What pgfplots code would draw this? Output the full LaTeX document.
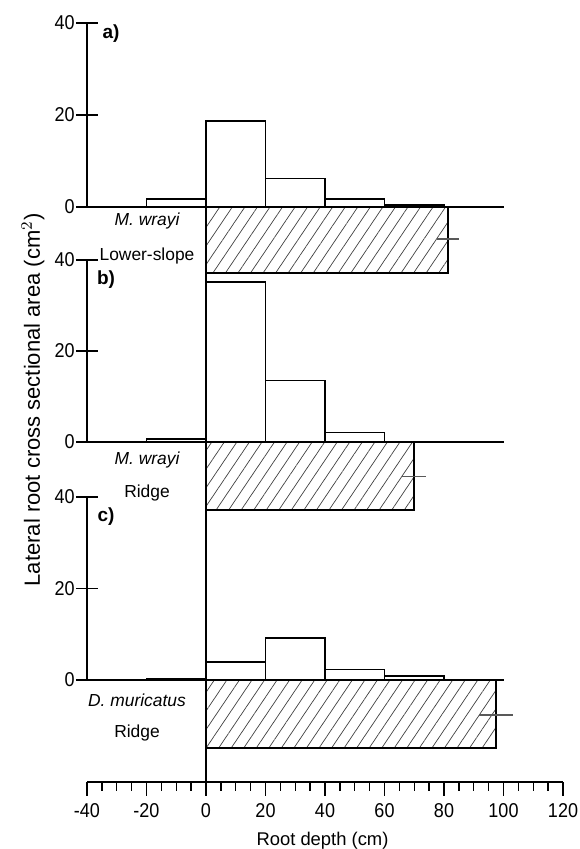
\documentclass[border=0pt]{standalone}
\usepackage{fontspec}
\setmainfont{Liberation Sans}
\newfontfamily\narrowfont[FakeStretch=0.9]{Liberation Sans}
\usepackage{pgfplots}
\pgfplotsset{compat=1.18}
\usetikzlibrary{patterns.meta}

\pgfplotsset{
 panel/.style={scale only axis, width=238pt, xmin=-40, xmax=120, ymin=0, ymax=40, clip=false,
   axis x line=none, axis y line=left, axis line style={-, line width=0.9pt},
   ytick={0,20,40}, tick align=center, major tick length=11pt,
   tick style={line width=0.8pt, black},
   yticklabel style={font=\narrowfont\fontsize{10}{10}\selectfont, inner sep=0.5pt},
   /pgf/number format/assume math mode=true},
 bars/.style={ybar interval, fill=white, draw=black, line width=0.9pt},
 hatch/.style={draw=black, line width=0.9pt, pattern={Lines[angle=56,distance=5.2pt,line width=0.35pt]}, pattern color=black!75},
 ebar/.style={black!65, line width=0.8pt},
 zline/.style={black, line width=1pt},
}

\begin{document}
\begin{tikzpicture}
\useasboundingbox (0pt,0pt) rectangle (289.5pt,424.5pt);

% bottom axis
\begin{axis}[scale only axis, width=238pt, height=331pt, at={(43.5pt,33.5pt)}, anchor=south west,
  xmin=-40, xmax=120, ymin=0, ymax=662, clip=false,
  axis x line=bottom, axis y line=none, axis line style={-, line width=0.9pt},
  xtick={-40,-20,...,120}, minor x tick num=3, tick align=outside,
  major tick length=7pt, minor tick length=4.5pt,
  tick style={line width=0.7pt, black},
  xticklabel style={font=\narrowfont\fontsize{10}{10}\selectfont},
  /pgf/number format/assume math mode=true]
\addplot[black, line width=0.9pt] coordinates {(0,0) (0,661)};
\end{axis}

% panel a
\begin{axis}[panel, height=92pt, at={(43.5pt,321pt)}, anchor=south west]
\addplot[hatch] coordinates {(0,0) (81.4,0) (81.4,-14.35) (0,-14.35) (0,0)};
\addplot[ebar] coordinates {(77.8,-7.0) (85.0,-7.0)};
\addplot[bars] coordinates {(-20,1.8) (0,18.7) (20,6.2) (40,1.7) (60,0.5) (80,0)};
\addplot[zline] coordinates {(-40,0) (100,0)};
\end{axis}

% panel b
\begin{axis}[panel, height=91pt, at={(43.5pt,203.5pt)}, anchor=south west]
\addplot[hatch] coordinates {(0,0) (70.0,0) (70.0,-14.95) (0,-14.95) (0,0)};
\addplot[ebar] coordinates {(66.0,-7.6) (74.0,-7.6)};
\addplot[bars] coordinates {(-20,0.7) (0,35.1) (20,13.5) (40,2.1) (60,0)};
\addplot[zline] coordinates {(-40,0) (100,0)};
\end{axis}

% panel c
\begin{axis}[panel, height=91.5pt, at={(43.5pt,84.5pt)}, anchor=south west]
\addplot[hatch] coordinates {(0,0) (97.5,0) (97.5,-14.9) (0,-14.9) (0,0)};
\addplot[ebar] coordinates {(91.8,-7.6) (103.2,-7.6)};
\addplot[bars] coordinates {(-20,0.2) (0,3.9) (20,9.1) (40,2.3) (60,0.9) (80,0)};
\addplot[zline] coordinates {(-40,0) (100,0)};
\end{axis}

% texts
\node[font=\fontsize{9.5}{9.5}\selectfont\bfseries] at (55.5pt,407.5pt) {a)};
\node[font=\fontsize{9.5}{9.5}\selectfont\bfseries] at (53pt,284.5pt) {b)};
\node[font=\fontsize{9.5}{9.5}\selectfont\bfseries] at (53pt,166pt) {c)};
\node[font=\fontsize{8.7}{8.7}\selectfont\itshape] at (73.5pt,314pt) {M. wrayi};
\node[font=\fontsize{8.7}{8.7}\selectfont] at (73.5pt,296.5pt) {Lower-slope};
\node[font=\fontsize{8.7}{8.7}\selectfont\itshape] at (73.5pt,194.5pt) {M. wrayi};
\node[font=\fontsize{8.7}{8.7}\selectfont] at (73.5pt,178pt) {Ridge};
\node[font=\fontsize{8.7}{8.7}\selectfont\itshape] at (68.5pt,74.5pt) {D. muricatus};
\node[font=\fontsize{8.7}{8.7}\selectfont] at (68.5pt,58pt) {Ridge};
\node[font=\fontsize{11}{11}\selectfont, rotate=90] at (16.5pt,224.5pt) {Lateral root cross sectional area (cm$^2$)};
\node[font=\fontsize{9.2}{9.2}\selectfont] at (161.25pt,4pt) {Root depth (cm)};
\end{tikzpicture}
\end{document}
